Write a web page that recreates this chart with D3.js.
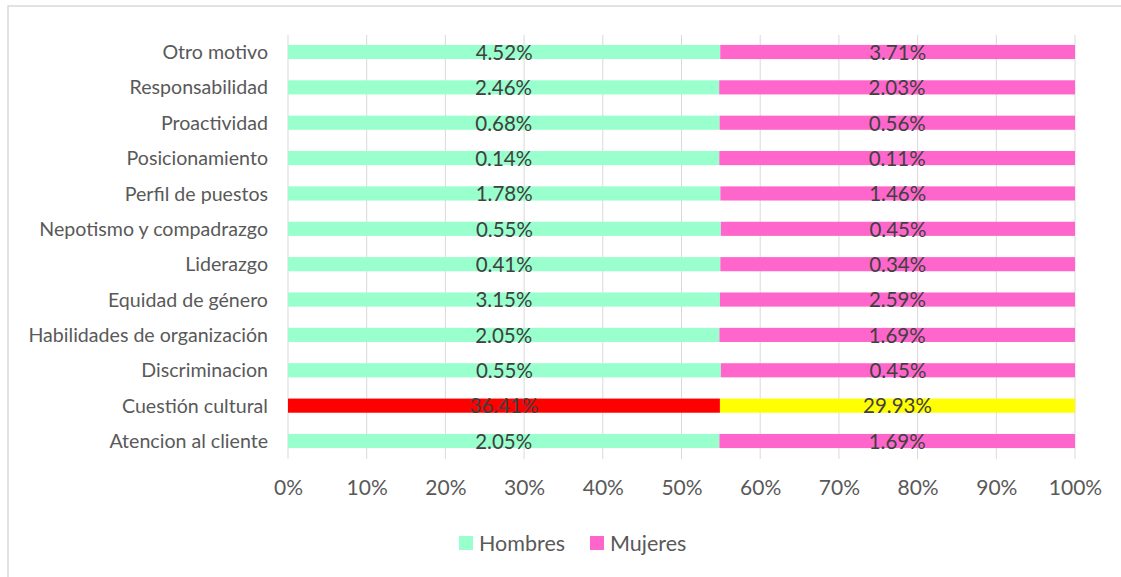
<!DOCTYPE html>
<html><head><meta charset="utf-8">
<script src="https://cdn.jsdelivr.net/npm/d3@7"></script>
<style>body{margin:0;background:#fff;} svg{display:block;}</style>
</head><body>
<svg id="c" width="1121" height="577"></svg>
<script>
const categories = ["Otro motivo","Responsabilidad","Proactividad","Posicionamiento","Perfil de puestos","Nepotismo y compadrazgo","Liderazgo","Equidad de género","Habilidades de organización","Discriminacion","Cuestión cultural","Atencion al cliente"];
const hombres = [4.52,2.46,0.68,0.137,1.78,0.55,0.412,3.15,2.05,0.55,36.41,2.05];
const mujeres = [3.71,2.03,0.56,0.113,1.46,0.45,0.338,2.59,1.69,0.45,29.93,1.69];
const seriesNames = ["Hombres","Mujeres"];
const seriesColors = ["#99FFCC","#FF66CC"];
const highlightCategory = "Cuestión cultural";
const highlightColors = ["#FF0000","#FFFF00"];
const tickValues = [0,0.1,0.2,0.3,0.4,0.5,0.6,0.7,0.8,0.9,1];

const svg = d3.select("#c");
const FONT = "Lato, 'Open Sans', sans-serif";

// frame
svg.append("rect").attr("x",8).attr("y",6).attr("width",1200).attr("height",700)
  .attr("fill","none").attr("stroke","#d9d9d9").attr("stroke-width",1.5);

const x = d3.scaleLinear().domain([0,1]).range([288,1075]);
const y = d3.scaleBand().domain(categories).range([34.3,458.7]).paddingInner(0.6).paddingOuter(0.3);

// gridlines
svg.append("g").selectAll("line").data(tickValues).join("line")
  .attr("x1",d=>x(d)).attr("x2",d=>x(d)).attr("y1",35).attr("y2",459)
  .attr("stroke","#d9d9d9").attr("stroke-width",1);

const rows = categories.map((c,i)=>{
  const tot = hombres[i]+mujeres[i];
  return {c, vals:[hombres[i],mujeres[i]], fr:[0, hombres[i]/tot, 1]};
});

const g = svg.append("g");
rows.forEach(r=>{
  [0,1].forEach(s=>{
    const col = r.c===highlightCategory ? highlightColors[s] : seriesColors[s];
    g.append("rect").attr("x",x(r.fr[s])).attr("width",x(r.fr[s+1])-x(r.fr[s]))
      .attr("y",y(r.c)).attr("height",y.bandwidth()).attr("fill",col);
  });
});
rows.forEach(r=>{
  [0,1].forEach(s=>{
    g.append("text").attr("x",(x(r.fr[s])+x(r.fr[s+1]))/2).attr("y",y(r.c)+y.bandwidth()/2)
      .attr("dy","0.38em").attr("text-anchor","middle").attr("font-family",FONT)
      .attr("font-size",20.5).attr("fill","#404040").text(r.vals[s].toFixed(2)+"%");
  });
});

// category axis labels
svg.append("g").selectAll("text").data(categories).join("text")
  .attr("x",268).attr("y",d=>y(d)+y.bandwidth()/2).attr("dy","0.36em")
  .attr("text-anchor","end").attr("font-family",FONT).attr("font-size",19.6).attr("fill","#595959")
  .text(d=>d);

// x axis tick labels
const xAxis = d3.axisBottom(x).tickValues(tickValues).tickFormat(d3.format(".0%")).tickSize(0).tickPadding(0);
const ax = svg.append("g").attr("transform","translate(0,480)").call(xAxis);
ax.select(".domain").remove();
ax.selectAll("text").attr("font-family",FONT).attr("font-size",21).attr("fill","#595959");

// legend
const legX = [459,590];
seriesNames.forEach((n,i)=>{
  svg.append("rect").attr("x",legX[i]).attr("y",536).attr("width",14).attr("height",14).attr("fill",seriesColors[i]);
  svg.append("text").attr("x",legX[i]+20).attr("y",543).attr("dy","0.36em").attr("font-family",FONT)
    .attr("font-size",21.5).attr("fill","#595959").text(n);
});
</script>
</body></html>
